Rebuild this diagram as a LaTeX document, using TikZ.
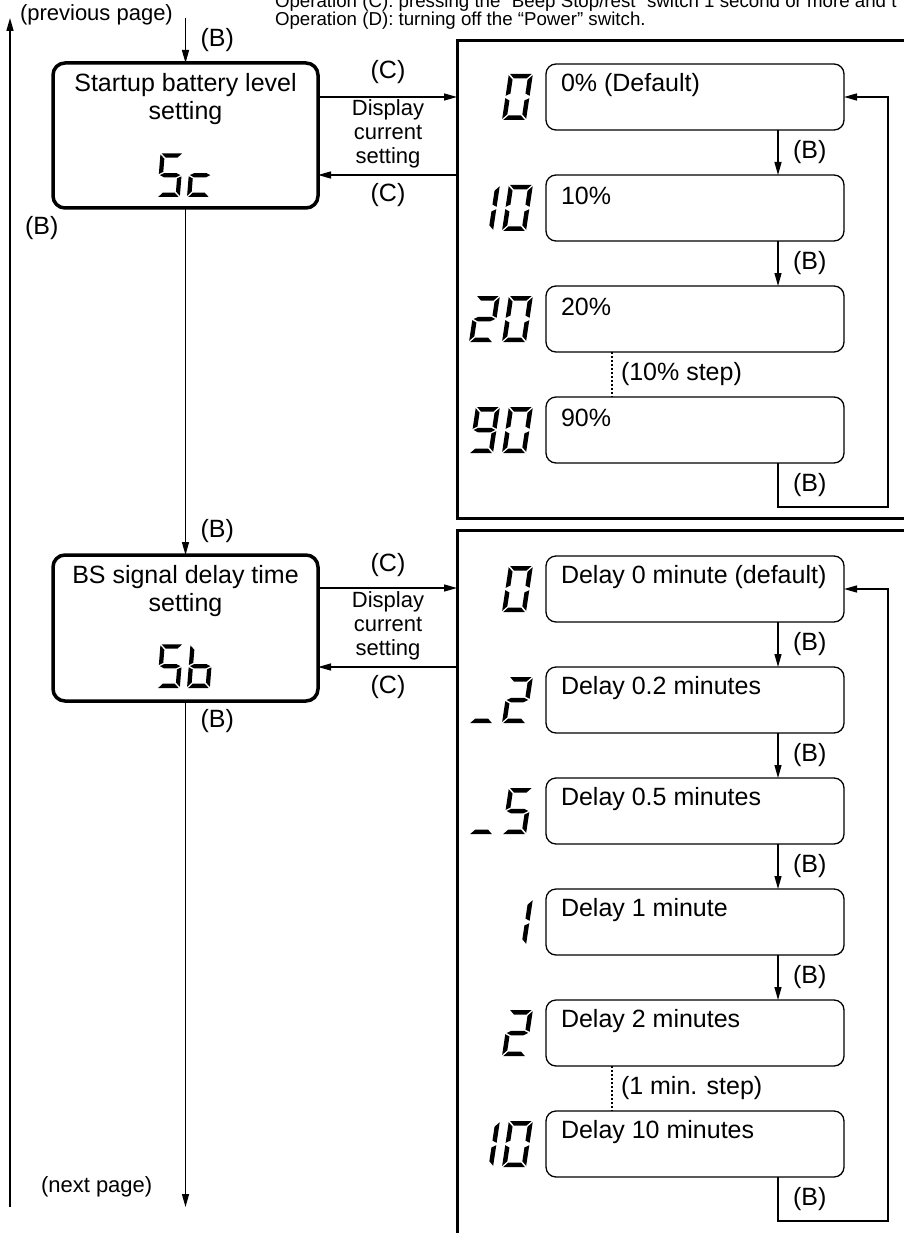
\documentclass[tikz,border=0pt]{standalone}
\usepackage{fontspec}
\setmainfont{Liberation Sans}
\usetikzlibrary{arrows.meta,calc}

% seven-segment LCD segments (W=24, H=46)
\newcommand{\segA}{\fill (1.2,46) -- (22.8,46) -- (18.3,41.5) -- (5.7,41.5) -- cycle;}
\newcommand{\segB}{\fill (24,44.8) -- (24,24.2) -- (19.5,26.45) -- (19.5,40.3) -- cycle;}
\newcommand{\segC}{\fill (24,21.8) -- (24,1.2) -- (19.5,5.7) -- (19.5,19.55) -- cycle;}
\newcommand{\segD}{\fill (1.2,0) -- (22.8,0) -- (18.3,4.5) -- (5.7,4.5) -- cycle;}
\newcommand{\segE}{\fill (0,21.8) -- (0,1.2) -- (4.5,5.7) -- (4.5,19.55) -- cycle;}
\newcommand{\segF}{\fill (0,44.8) -- (4.5,40.3) -- (4.5,26.45) -- (0,24.2) -- cycle;}
\newcommand{\segG}{\fill (1.2,23) -- (5.7,25.25) -- (18.3,25.25) -- (22.8,23) -- (18.3,20.75) -- (5.7,20.75) -- cycle;}
\newcommand{\dZero}{\segA\segB\segC\segD\segE\segF}
\newcommand{\dOne}{\segB\segC}
\newcommand{\dTwo}{\segA\segB\segG\segE\segD}
\newcommand{\dFive}{\segA\segF\segG\segC\segD}
\newcommand{\dNine}{\segA\segB\segC\segD\segF\segG}
\newcommand{\dLowC}{\segG\segE\segD}
\newcommand{\dLowB}{\segF\segE\segG\segC\segD}
\newcommand{\lcd}[3]{\begin{scope}[shift={(#1,#2)},x=1pt,y=1pt,xslant=0.15]#3\end{scope}}
\newcommand{\lcdm}[3]{\begin{scope}[shift={(#1,#2)},x=0.95pt,y=0.95pt,xslant=0.08]#3\end{scope}}

\begin{document}
\begin{tikzpicture}[x=1pt,y=-1pt,
  every node/.style={inner sep=0pt, outer sep=0pt},
  mainbox/.style={draw, line width=3.5pt, rounded corners=12pt, minimum width=265pt, minimum height=145pt},
  panel/.style={draw, line width=3pt},
  optbox/.style={draw, line width=1.3pt, rounded corners=10pt, minimum width=298pt, minimum height=66pt},
  conn/.style={line width=1.3pt},
  arr/.style={conn, -{Triangle[length=13pt,width=7pt]}},
  big/.style={font=\fontsize{25}{28}\selectfont},
  small/.style={font=\fontsize{22}{24}\selectfont},
  note/.style={font=\fontsize{18.7}{18}\selectfont},
  optlabel/.style={big, anchor=west},
  dots/.style={line width=2pt, dash pattern=on 2pt off 2pt},
  blab/.style={big, anchor=west, xshift=15pt},
]
\useasboundingbox (0,0) rectangle (904,1233);

% header notes
\node[note, anchor=base west] (op1) at (275,8) {Operation (C): pressing the “Beep Stop/rest” switch 1 second or more and t};
\node[note, anchor=base west] (op2) at (275,26) {Operation (D): turning off the “Power” switch.};

% main boxes
\node[mainbox] (s1) at (185.5,135.5) {};
\node[big, align=center] (s1t) at (185.5,99) {Startup battery level\\setting};
\lcdm{157}{197}{\dFive}
\lcdm{187}{197}{\dLowC}

\node[mainbox, minimum height=146pt] (s2) at (185.5,628) {};
\node[big, align=center] (s2t) at (185.5,591) {BS signal delay time\\setting};
\lcdm{157}{688}{\dFive}
\lcdm{187}{688}{\dLowB}

% flow coordinates
\coordinate (prev) at (185.5,18);
\coordinate (next) at (185.5,1207);
\coordinate (lb) at (10,1207);
\coordinate (lt) at (10,18);

\draw[arr] (prev) -- node[pos=0.5, blab] (bl1) {(B)} (s1.north);
\draw[arr] (s1.south) -- node[pos=0.93, blab] (bl2) {(B)} (s2.north);
\draw[arr] (s2.south) -- node[pos=0.04, blab] (bl3) {(B)} (next);
\draw[arr] (lb) -- node[pos=0.823, blab] (bl4) {(B)} (lt);

\node[small, anchor=west] (pp) at (20,15) {(previous page)};
\node[small, anchor=west] (np) at (41,1187) {(next page)};

% panels
\node[panel, anchor=north west, minimum width=520pt, minimum height=477pt] (p1) at (457,41) {};
\node[panel, anchor=north west, minimum width=520pt, minimum height=800pt] (p2) at (457,530) {};

% main <-> panel 1
\coordinate (s1r1) at ([yshift=38.5pt]s1.east);
\coordinate (s1r2) at ([yshift=-39.5pt]s1.east);
\draw[arr] (s1r1) -- (s1r1 -| p1.west);
\draw[arr] (s1r2 -| p1.west) -- (s1r2);
\node[big] (c1a) at (388,72) {(C)};
\node[big] (c1b) at (388,195) {(C)};
\node[small, align=center] (d1) at (388,134) {Display\\current\\setting};

% main <-> panel 2
\coordinate (s2r1) at ([yshift=40pt]s2.east);
\coordinate (s2r2) at ([yshift=-39pt]s2.east);
\draw[arr] (s2r1) -- (s2r1 -| p2.west);
\draw[arr] (s2r2 -| p2.west) -- (s2r2);
\node[big] (c2a) at (388,565) {(C)};
\node[big] (c2b) at (388,687) {(C)};
\node[small, align=center] (d2) at (388,626) {Display\\current\\setting};

% panel 1 options
\node[optbox] (a1) at (695,97) {};
\node[optbox] (a2) at (695,208) {};
\node[optbox] (a3) at (695,319) {};
\node[optbox] (a4) at (695,430) {};
\node[optlabel] (a1t) at (561,85) {0\% (Default)};
\node[optlabel] (a2t) at (561,196) {10\%};
\node[optlabel] (a3t) at (561,307) {20\%};
\node[optlabel] (a4t) at (561,418) {90\%};
\lcd{502}{120}{\dZero}
\lcd{469}{231}{\dOne}\lcd{502}{231}{\dZero}
\lcd{469}{342}{\dTwo}\lcd{502}{342}{\dZero}
\lcd{469}{453}{\dNine}\lcd{502}{453}{\dZero}

\draw[arr] ([xshift=83pt]a1.south) -- node[midway, blab] {(B)} ([xshift=83pt]a2.north);
\draw[arr] ([xshift=83pt]a2.south) -- node[midway, blab] {(B)} ([xshift=83pt]a3.north);
\draw[dots] ([xshift=-83pt]a3.south) -- node[midway, big, anchor=west, xshift=9pt] {(10\% step)} ([xshift=-83pt]a4.north);
\draw[arr] ([xshift=83pt]a4.south) |- node[pos=0.25, blab] {(B)} ++(110,44) |- (a1.east);

% panel 2 options
\node[optbox] (b1) at (695,589) {};
\node[optbox] (b2) at (695,700) {};
\node[optbox] (b3) at (695,811) {};
\node[optbox] (b4) at (695,922) {};
\node[optbox] (b5) at (695,1033) {};
\node[optbox] (b6) at (695,1144) {};
\node[optlabel] (b1t) at (561,577) {Delay 0 minute (default)};
\node[optlabel] (b2t) at (561,688) {Delay 0.2 minutes};
\node[optlabel] (b3t) at (561,799) {Delay 0.5 minutes};
\node[optlabel] (b4t) at (561,910) {Delay 1 minute};
\node[optlabel] (b5t) at (561,1021) {Delay 2 minutes};
\node[optlabel] (b6t) at (561,1132) {Delay 10 minutes};
\lcd{502}{612}{\dZero}
\lcd{469}{723}{\segD}\lcd{502}{723}{\dTwo}
\lcd{469}{834}{\segD}\lcd{502}{834}{\dFive}
\lcd{502}{945}{\dOne}
\lcd{502}{1056}{\dTwo}
\lcd{469}{1167}{\dOne}\lcd{502}{1167}{\dZero}

\draw[arr] ([xshift=83pt]b1.south) -- node[midway, blab] {(B)} ([xshift=83pt]b2.north);
\draw[arr] ([xshift=83pt]b2.south) -- node[midway, blab] {(B)} ([xshift=83pt]b3.north);
\draw[arr] ([xshift=83pt]b3.south) -- node[midway, blab] {(B)} ([xshift=83pt]b4.north);
\draw[arr] ([xshift=83pt]b4.south) -- node[midway, blab] {(B)} ([xshift=83pt]b5.north);
\draw[dots] ([xshift=-83pt]b5.south) -- node[midway, big, anchor=west, xshift=9pt] {(1 min. step)} ([xshift=-83pt]b6.north);
\draw[arr] ([xshift=83pt]b6.south) |- node[pos=0.25, blab] {(B)} ++(110,44) |- (b1.east);
\end{tikzpicture}
\end{document}
